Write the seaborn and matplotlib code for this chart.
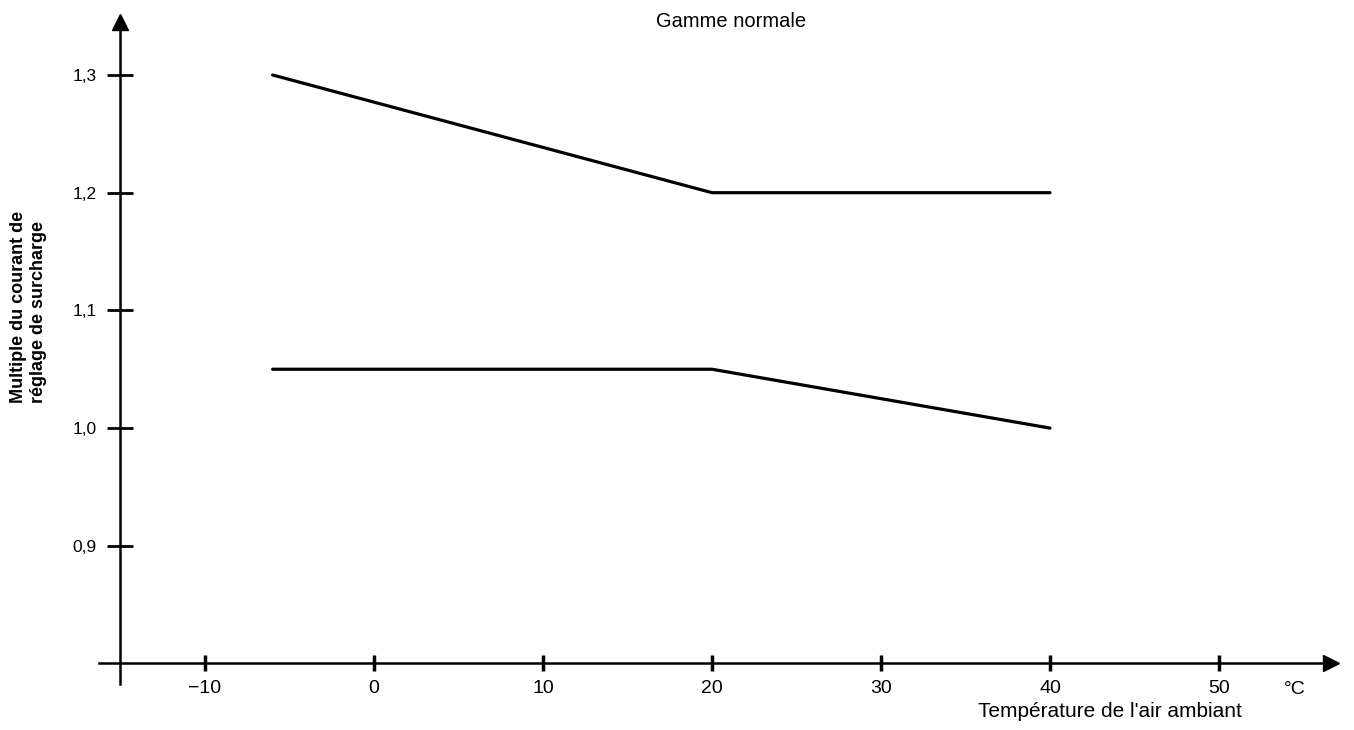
import pandas as pd
import numpy as np
import matplotlib.pyplot as plt
import seaborn as sns

# curve data
temp_upper = [-6, 20, 40]
mult_upper = [1.30, 1.20, 1.20]
temp_lower = [-6, 20, 40]
mult_lower = [1.05, 1.05, 1.00]

x_ticks = [-10, 0, 10, 20, 30, 40, 50]
x_labels = ['\u221210', '0', '10', '20', '30', '40', '50']
y_ticks = [0.9, 1.0, 1.1, 1.2, 1.3]
y_labels = ['0,9', '1,0', '1,1', '1,2', '1,3']

df = pd.concat([
    pd.DataFrame({'temp': temp_upper, 'mult': mult_upper, 'courbe': 'haut'}),
    pd.DataFrame({'temp': temp_lower, 'mult': mult_lower, 'courbe': 'bas'}),
])

sns.set_style('white')
plt.rcParams['font.family'] = ['Liberation Sans', 'DejaVu Sans']
plt.rcParams['text.color'] = 'black'
plt.rcParams['xtick.color'] = 'black'
plt.rcParams['ytick.color'] = 'black'

fig = plt.figure(figsize=(13.54, 7.30), dpi=100)
ax = fig.add_axes([0, 0, 1, 1])

sns.lineplot(data=df, x='temp', y='mult', units='courbe', estimator=None,
             color='black', linewidth=2.3, ax=ax, legend=False)

ax.set_xlim(-22.13, 57.99)
ax.set_ylim(0.7435, 1.3637)

# axes drawn as crossing spines
for s in ['top', 'right']:
    ax.spines[s].set_visible(False)
ax.spines['left'].set_position(('data', -15))
ax.spines['bottom'].set_position(('data', 0.8))
ax.spines['left'].set_bounds(0.783, 1.345)
ax.spines['bottom'].set_bounds(-16.3, 56.5)
for s in ['left', 'bottom']:
    ax.spines[s].set_linewidth(1.8)
    ax.spines[s].set_color('black')

# arrow heads
ax.plot([-15], [1.345], marker='^', markersize=11, color='black', clip_on=False)
ax.plot([56.6], [0.8], marker='>', markersize=11, color='black', clip_on=False)

ax.set_xticks(x_ticks)
ax.set_xticklabels(x_labels)
ax.set_yticks(y_ticks)
ax.set_yticklabels(y_labels)
ax.tick_params(axis='y', direction='inout', length=19, width=2, pad=7.5,
               labelsize=12.5, left=True)
ax.tick_params(axis='x', direction='inout', length=12, width=2.5, pad=6,
               labelsize=14, bottom=True)
ax.set_xlabel('')
ax.set_ylabel('')
ax.grid(False)

ax.text(1295 / 1354, 1 - 681 / 730, '\u00b0C', fontsize=14, ha='center', va='top',
        transform=ax.transAxes)
ax.text(978 / 1354, 1 - 717 / 730, "Température de l'air ambiant", fontsize=15,
        ha='left', va='baseline', transform=ax.transAxes)
ax.text(731 / 1354, 1 - 12 / 730, 'Gamme normale', fontsize=14.5, ha='center', va='top',
        transform=ax.transAxes)
ax.text(10 / 1354, 1 - 403 / 730, 'Multiple du courant de\nréglage de surcharge',
        fontsize=13, fontweight='bold', rotation=90, ha='left', va='bottom',
        multialignment='left', transform=ax.transAxes)

plt.savefig('out.png', dpi=100)
